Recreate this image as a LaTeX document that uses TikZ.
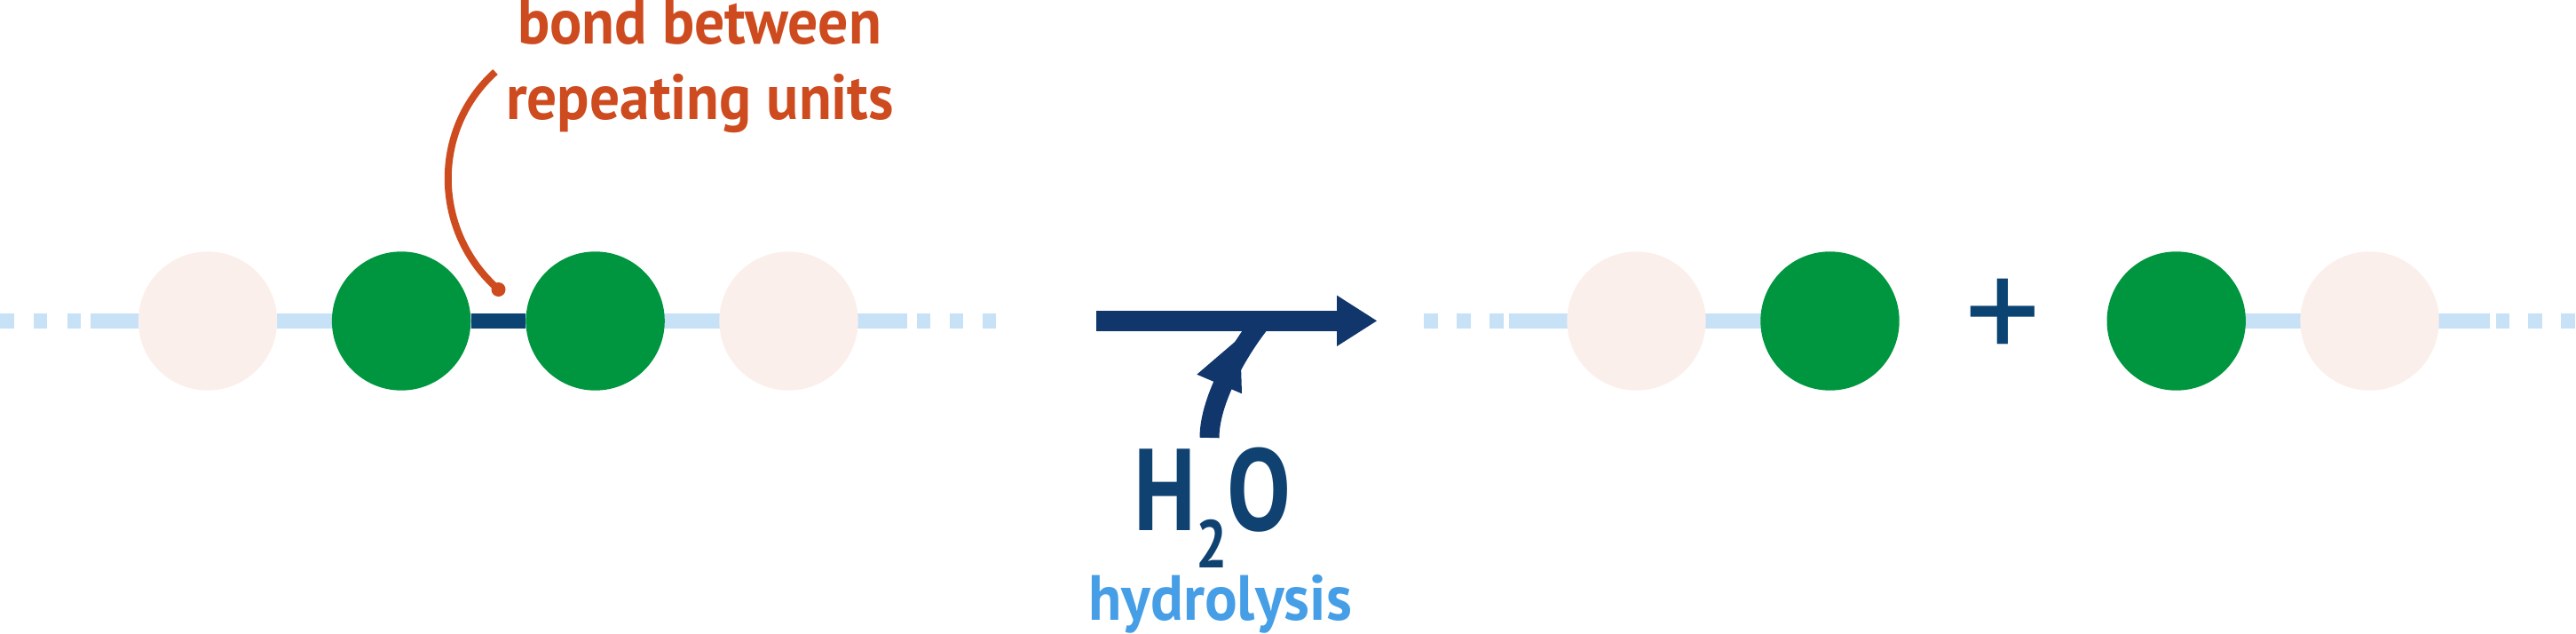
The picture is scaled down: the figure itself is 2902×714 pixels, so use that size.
\documentclass[tikz,border=0pt]{standalone}
\usepackage{fontspec}
\setmainfont{PT Sans}
\newfontfamily\waterfont{PT Sans}[FakeStretch=0.82]
\usepackage{graphicx}
\usetikzlibrary{arrows.meta}
\definecolor{chainblue}{HTML}{C7E1F7}
\definecolor{palepink}{HTML}{FBEFEB}
\definecolor{unitgreen}{HTML}{00963F}
\definecolor{bondblue}{HTML}{0B4373}
\definecolor{arrowblue}{HTML}{10366C}
\definecolor{labelorange}{HTML}{CD4B1F}
\definecolor{hydroblue}{HTML}{469FE6}
\definecolor{waterblue}{HTML}{0F4271}
\newsavebox\fitbox
\newcommand{\fitw}[2]{\sbox\fitbox{#2}\pgfmathsetmacro\fitfac{#1/\the\wd\fitbox}\scalebox{\fitfac}[1]{\usebox\fitbox}}
\begin{document}
\begin{tikzpicture}[x=1pt,y=-1pt,
  chainline/.style={draw=chainblue,line width=16.5pt},
  unitbase/.style={circle,minimum size=156.4pt,inner sep=0pt,draw=none},
  paleunit/.style={unitbase,fill=palepink},
  greenunit/.style={unitbase,fill=unitgreen},
  bond/.style={draw=bondblue,line width=16.6pt},
  pointer/.style={draw=labelorange,line width=8pt},
  orangetext/.style={text=labelorange,inner sep=0pt,anchor=base,font=\fontsize{72}{80}\selectfont\bfseries},
  bigarrow/.style={draw=arrowblue,line width=22.7pt,-{Triangle[length=45.6pt,width=54pt]}},
]
\useasboundingbox (0,0) rectangle (2902,714);
% left chain backbone
\draw[chainline] (101.7,361.5) -- (1022,361.5);
\draw[chainline, dash pattern=on 15.5pt off 22.3pt] (0,361.5) -- (91.2,361.5);
\draw[chainline, dash pattern=on 15.7pt off 21.3pt] (1032.6,361.5) -- (1122.3,361.5);
% right chains backbone
\draw[chainline] (1700,361.5) -- (2061.5,361.5);
\draw[chainline] (2451.7,361.5) -- (2805,361.5);
\draw[chainline, dash pattern=on 16pt off 21pt] (1604.3,361.5) -- (1694.3,361.5);
\draw[chainline, dash pattern=on 15.6pt off 21pt] (2811.7,361.5) -- (2901.3,361.5);
% left polymer
\node[paleunit] (p1) at (234,361.5) {};
\node[greenunit] (g1) at (452.1,361.5) {};
\node[greenunit] (g2) at (670.6,361.5) {};
\node[paleunit] (p2) at (888.5,361.5) {};
\draw[bond] (g1) -- (g2);
% label and pointer
\node[orangetext] (lab1) at (788,50) {\fitw{410}{bond between}};
\node[orangetext] (lab2) at (788.5,135) {\fitw{437}{repeating units}};
\coordinate (ptrtop) at (558,81);
\coordinate (ptrend) at (561.5,326);
\draw[pointer] (ptrtop) .. controls (485.3,146.4) and (487.7,261.2) .. (ptrend);
\fill[labelorange] (ptrend) circle[radius=8];
% reaction arrow
\coordinate (ra) at (1235,361.3);
\coordinate (rb) at (1551.6,361.3);
\draw[bigarrow] (ra) -- (rb);
% water arrow
\coordinate (wstart) at (1362.5,493);
\coordinate (wend) at (1422,361);
\draw[draw=arrowblue,line width=22pt] (wstart) .. controls (1362.5,448) and (1399.6,388) .. (wend);
\fill[arrowblue] (1348.3,421.7) -- (1397,380) -- (1399,443.3) -- cycle;
\node[text=waterblue,inner sep=0pt,anchor=base] (water) at (1366,597)
  {\waterfont\bfseries\fontsize{131}{131}\selectfont H\raisebox{-42pt}{\fontsize{76}{76}\selectfont 2}O};
\node[text=hydroblue,inner sep=0pt,anchor=base,font=\fontsize{72}{80}\selectfont\bfseries] (hydro) at (1374.6,698) {\fitw{297}{hydrolysis}};
% products
\node[paleunit] (p3) at (1843.5,361.5) {};
\node[greenunit] (g3) at (2061.5,361.5) {};
\node[text=bondblue,inner sep=0pt,font=\fontsize{170}{170}\selectfont] (plus) at (2256.7,361) {+};
\node[greenunit] (g4) at (2451.7,361.5) {};
\node[paleunit] (p4) at (2669.5,361.5) {};
\end{tikzpicture}
\end{document}
